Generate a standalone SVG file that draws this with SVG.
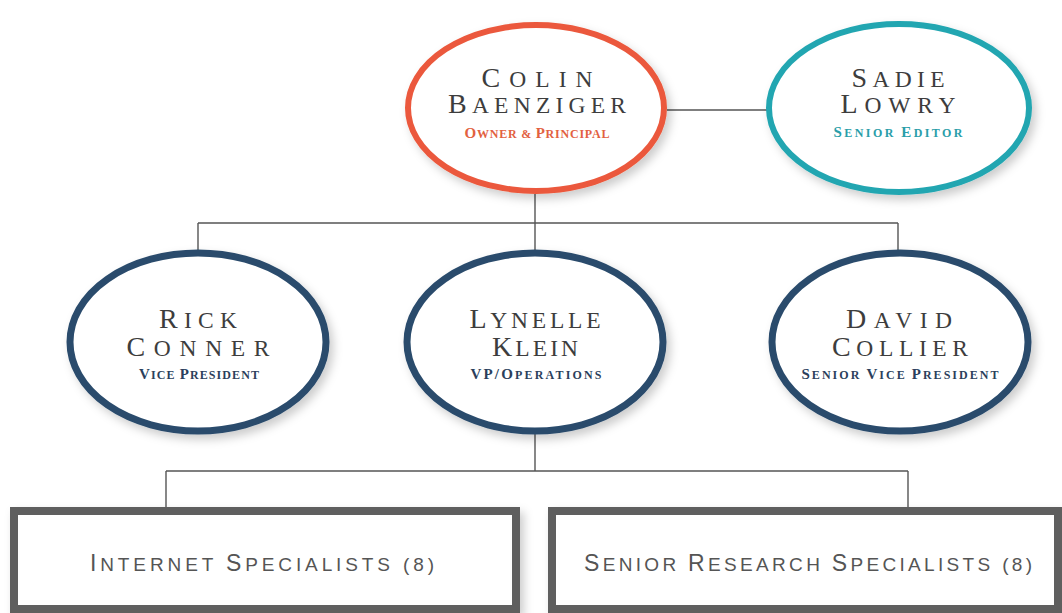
<svg xmlns="http://www.w3.org/2000/svg" width="1062" height="613" viewBox="0 0 1062 613">
<defs>
<filter id="sh" x="-20%" y="-20%" width="140%" height="150%">
<feDropShadow dx="4" dy="5" stdDeviation="5" flood-color="#000" flood-opacity="0.2"/>
</filter>
</defs>
<style>
.name{font-family:"Liberation Serif","Times New Roman",serif;fill:#3d3d3d;text-anchor:middle}
.name .c{font-size:28px}
.name .s{font-size:23.5px}
.sub{font-family:"Liberation Serif","Times New Roman",serif;font-weight:bold;text-anchor:middle}
.sub .c{font-size:15px}
.sub .s{font-size:12px}
.box{font-family:"Liberation Sans","Open Sans",sans-serif;fill:#555;text-anchor:middle}
.box .c{font-size:23px}
.box .s{font-size:19px}
.ell{fill:#fff;filter:url(#sh)}
.red{stroke:#eb593c;stroke-width:6}
.teal{stroke:#23a6b1;stroke-width:6}
.navy{stroke:#2a4b6c;stroke-width:7}
.rect{fill:#fff;stroke:#5f5f5f;stroke-width:8;filter:url(#sh)}
.conn{stroke:#555;stroke-width:1.4;fill:none}
</style>
<rect width="1062" height="613" fill="#fff"/>
<g id="connectors">
<line class="conn" x1="667" y1="110" x2="767" y2="110"/>
<line class="conn" x1="535" y1="194" x2="535" y2="250"/>
<line class="conn" x1="198" y1="223" x2="898" y2="223"/>
<line class="conn" x1="198" y1="223" x2="198" y2="250"/>
<line class="conn" x1="898" y1="223" x2="898" y2="250"/>
<line class="conn" x1="535" y1="433" x2="535" y2="471"/>
<line class="conn" x1="166" y1="471" x2="908" y2="471"/>
<line class="conn" x1="166" y1="471" x2="166" y2="508"/>
<line class="conn" x1="908" y1="471" x2="908" y2="508"/>
</g>
<g id="colin">
<ellipse class="ell red" cx="536" cy="108" rx="128" ry="83"/>
<text class="name" x="537" y="87" textLength="111" lengthAdjust="spacing"><tspan class="c">C</tspan><tspan class="s">OLIN</tspan></text>
<text class="name" x="537" y="113" textLength="178" lengthAdjust="spacing"><tspan class="c">B</tspan><tspan class="s">AENZIGER</tspan></text>
<text class="sub" x="537" y="138" fill="#e2613f" textLength="145" lengthAdjust="spacing"><tspan class="c">O</tspan><tspan class="s">WNER &amp; </tspan><tspan class="c">P</tspan><tspan class="s">RINCIPAL</tspan></text>
</g>
<g id="sadie">
<ellipse class="ell teal" cx="899" cy="108" rx="130" ry="84"/>
<text class="name" x="898" y="87" textLength="93" lengthAdjust="spacing"><tspan class="c">S</tspan><tspan class="s">ADIE</tspan></text>
<text class="name" x="898" y="113" textLength="115" lengthAdjust="spacing"><tspan class="c">L</tspan><tspan class="s">OWRY</tspan></text>
<text class="sub" x="898" y="137" fill="#2a9ea9" textLength="129" lengthAdjust="spacing"><tspan class="c">S</tspan><tspan class="s">ENIOR </tspan><tspan class="c">E</tspan><tspan class="s">DITOR</tspan></text>
</g>
<g id="rick">
<ellipse class="ell navy" cx="198" cy="342" rx="128" ry="89"/>
<text class="name" x="198" y="328" textLength="78" lengthAdjust="spacing"><tspan class="c">R</tspan><tspan class="s">ICK</tspan></text>
<text class="name" x="198" y="356" textLength="143" lengthAdjust="spacing"><tspan class="c">C</tspan><tspan class="s">ONNER</tspan></text>
<text class="sub" x="199" y="379" fill="#2b3f5c" textLength="120" lengthAdjust="spacing"><tspan class="c">V</tspan><tspan class="s">ICE </tspan><tspan class="c">P</tspan><tspan class="s">RESIDENT</tspan></text>
</g>
<g id="lynelle">
<ellipse class="ell navy" cx="535" cy="342" rx="128" ry="89"/>
<text class="name" x="535" y="328" textLength="131" lengthAdjust="spacing"><tspan class="c">L</tspan><tspan class="s">YNELLE</tspan></text>
<text class="name" x="535" y="356" textLength="86" lengthAdjust="spacing"><tspan class="c">K</tspan><tspan class="s">LEIN</tspan></text>
<text class="sub" x="536" y="379" fill="#2b3f5c" textLength="131" lengthAdjust="spacing"><tspan class="c">VP/O</tspan><tspan class="s">PERATIONS</tspan></text>
</g>
<g id="david">
<ellipse class="ell navy" cx="900" cy="342" rx="128" ry="89"/>
<text class="name" x="899" y="328" textLength="106" lengthAdjust="spacing"><tspan class="c">D</tspan><tspan class="s">AVID</tspan></text>
<text class="name" x="900" y="356" textLength="136" lengthAdjust="spacing"><tspan class="c">C</tspan><tspan class="s">OLLIER</tspan></text>
<text class="sub" x="900" y="379" fill="#2b3f5c" textLength="197" lengthAdjust="spacing"><tspan class="c">S</tspan><tspan class="s">ENIOR </tspan><tspan class="c">V</tspan><tspan class="s">ICE </tspan><tspan class="c">P</tspan><tspan class="s">RESIDENT</tspan></text>
</g>
<g id="internet">
<rect class="rect" x="14" y="511" width="502" height="98"/>
<text class="box" x="262" y="571" textLength="344" lengthAdjust="spacing"><tspan class="c">I</tspan><tspan class="s">NTERNET </tspan><tspan class="c">S</tspan><tspan class="s">PECIALISTS (8)</tspan></text>
</g>
<g id="senior-research">
<rect class="rect" x="552" y="511" width="506" height="98"/>
<text class="box" x="808" y="571" textLength="448" lengthAdjust="spacing"><tspan class="c">S</tspan><tspan class="s">ENIOR </tspan><tspan class="c">R</tspan><tspan class="s">ESEARCH </tspan><tspan class="c">S</tspan><tspan class="s">PECIALISTS (8)</tspan></text>
</g>
</svg>
